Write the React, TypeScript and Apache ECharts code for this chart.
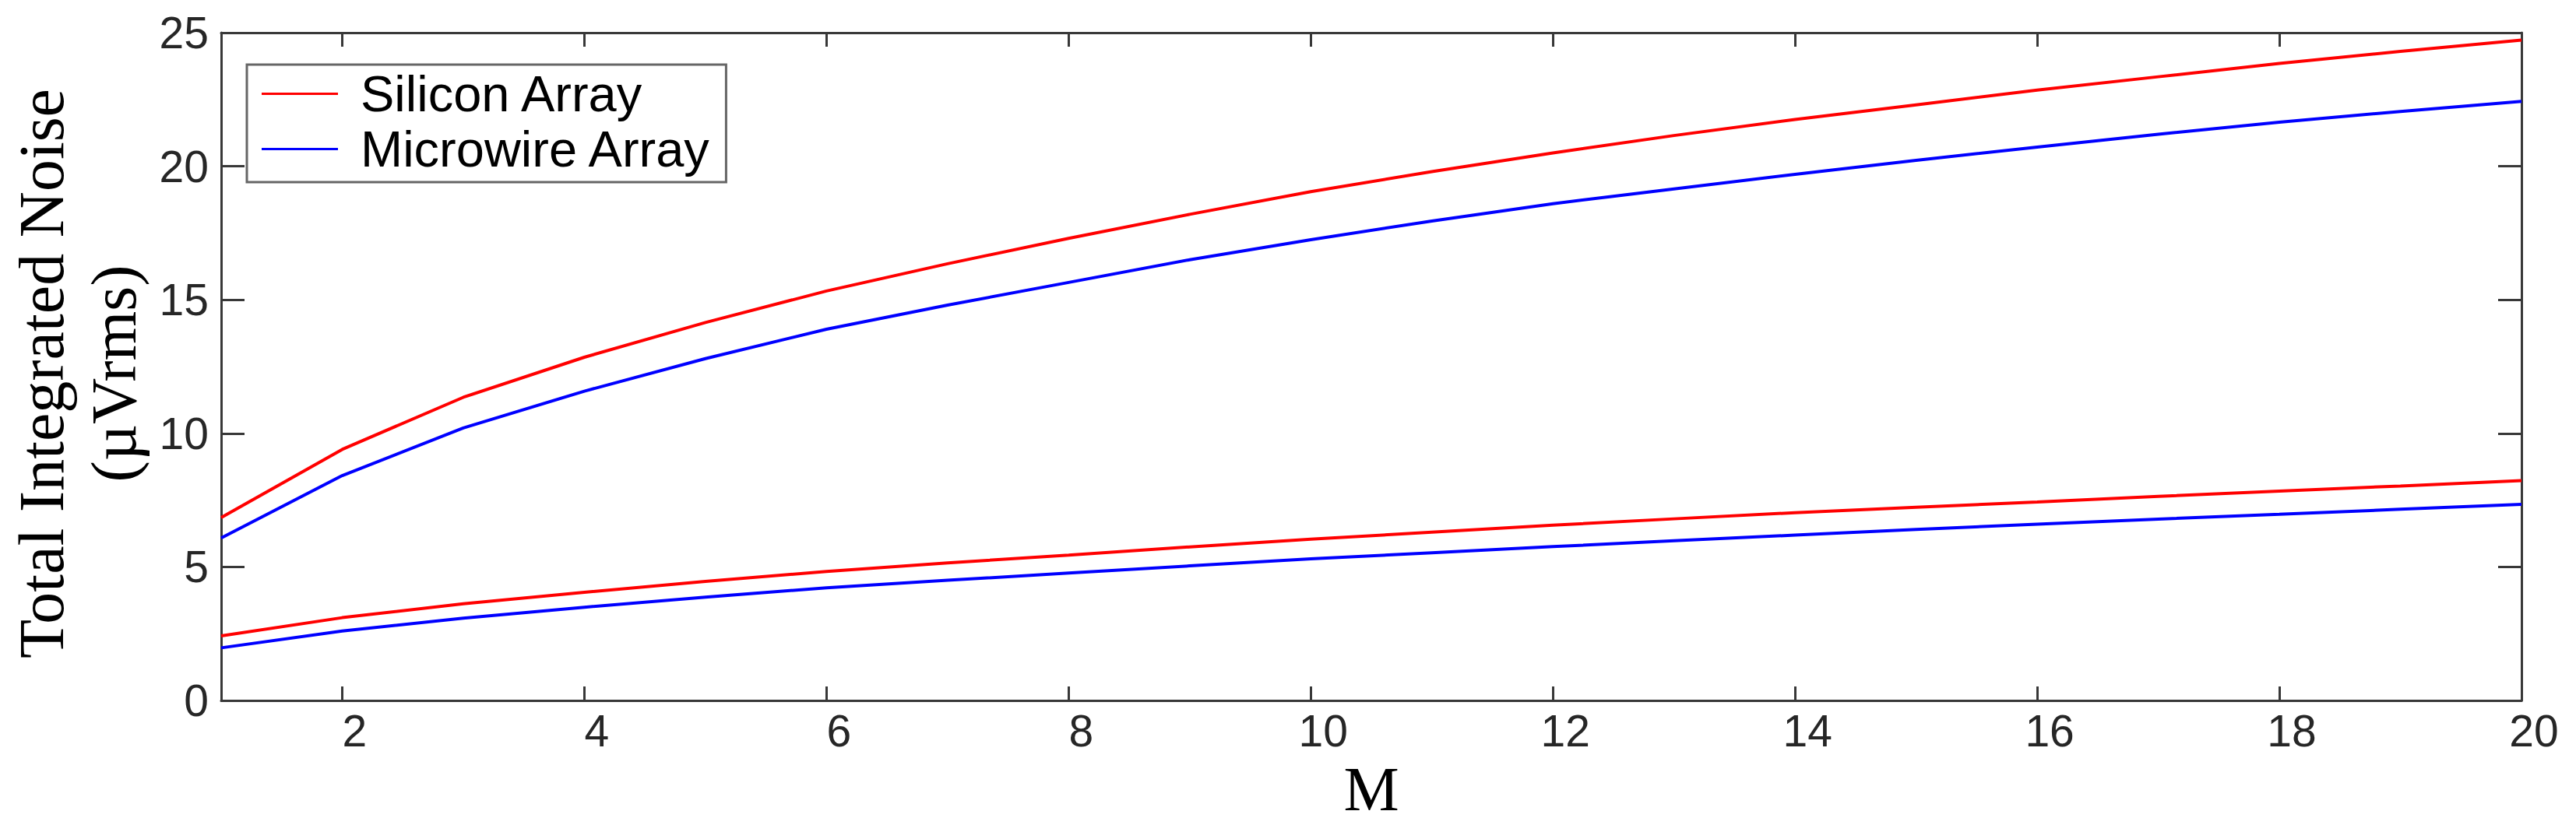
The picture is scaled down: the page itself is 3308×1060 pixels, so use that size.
import React, { useEffect, useRef } from "react";
import * as echarts from "echarts";

const mValues = [1, 2, 3, 4, 5, 6, 7, 8, 9, 10, 11, 12, 13, 14, 15, 16, 17, 18, 19, 20];
const siliconUpper = [6.85, 9.4, 11.35, 12.85, 14.15, 15.33, 16.35, 17.3, 18.2, 19.05, 19.8, 20.5, 21.15, 21.75, 22.3, 22.85, 23.35, 23.85, 24.3, 24.72];
const microwireUpper = [6.08, 8.42, 10.2, 11.58, 12.8, 13.9, 14.8, 15.65, 16.5, 17.25, 17.95, 18.6, 19.15, 19.7, 20.22, 20.72, 21.2, 21.65, 22.05, 22.43];
const siliconLower = [2.42, 3.1, 3.62, 4.05, 4.46, 4.83, 5.15, 5.44, 5.75, 6.04, 6.3, 6.56, 6.8, 7.03, 7.23, 7.43, 7.64, 7.84, 8.03, 8.23];
const microwireLower = [1.97, 2.6, 3.08, 3.49, 3.87, 4.22, 4.5, 4.77, 5.04, 5.3, 5.53, 5.76, 5.98, 6.19, 6.4, 6.6, 6.79, 6.97, 7.16, 7.34];
const xTickValues = [2, 4, 6, 8, 10, 12, 14, 16, 18, 20];
const legendNames = ["Silicon Array", "Microwire Array"];
const xAxisTitle = "M";
const yAxisTitle = "Total Integrated Noise\n(µVrms)";

const W = 3308;
const H = 1060;
const GRID = { left: 284, right: 70, top: 42, bottom: 160 };

const pairs = (ys: number[]) => mValues.map((m, i) => [m, ys[i]]);

export default function App() {
  const ref = useRef<HTMLDivElement>(null);
  useEffect(() => {
    document.body.style.margin = "0";
    const chart = echarts.init(ref.current as HTMLDivElement, null, { renderer: "svg", width: W, height: H });
    const axisLineStyle = { color: "#383838", width: 3 };
    const tickStyle = { color: "#383838", width: 3 };
    const labelFont = { fontFamily: "Liberation Sans, Arial, sans-serif", fontSize: 57, color: "#262626" };
    const lineSeries = (name: string, ys: number[], color: string) => ({
      type: "line",
      name,
      data: pairs(ys),
      symbol: "none",
      showSymbol: false,
      lineStyle: { color, width: 4 },
      itemStyle: { color },
      xAxisIndex: 0,
      yAxisIndex: 0,
      z: 3,
    });
    chart.setOption({
      animation: false,
      backgroundColor: "#ffffff",
      grid: { ...GRID, containLabel: false, outerBoundsMode: "none" },
      legend: {
        data: legendNames.map((name) => ({ name, icon: "rect" })),
        orient: "vertical",
        left: 317,
        top: 83,
        padding: [5, 18, 10, 19],
        backgroundColor: "#ffffff",
        borderColor: "#666666",
        borderWidth: 3,
        itemWidth: 98,
        itemHeight: 3,
        itemGap: 6,
        selectedMode: false,
        textStyle: {
          fontFamily: "Liberation Sans, Arial, sans-serif",
          fontSize: 65,
          lineHeight: 65,
          color: "#000000",
          padding: [0, 0, 0, 24],
        },
      },
      xAxis: [
        {
          type: "value",
          position: "bottom",
          min: 1,
          max: 20,
          axisLine: { show: true, onZero: false, lineStyle: axisLineStyle },
          axisTick: { show: true, inside: true, length: 18, customValues: xTickValues, lineStyle: tickStyle },
          axisLabel: { ...labelFont, margin: 10, customValues: xTickValues, padding: [0, 0, 0, 32] },
          splitLine: { show: false },
        },
        {
          type: "value",
          position: "top",
          min: 1,
          max: 20,
          axisLine: { show: true, onZero: false, lineStyle: axisLineStyle },
          axisTick: { show: true, inside: true, length: 18, customValues: xTickValues, lineStyle: tickStyle },
          axisLabel: { show: false },
          splitLine: { show: false },
        },
      ],
      yAxis: [
        {
          type: "value",
          position: "left",
          min: 0,
          max: 25,
          interval: 5,
          axisLine: { show: true, onZero: false, lineStyle: axisLineStyle },
          axisTick: { show: true, inside: true, length: 30, lineStyle: tickStyle },
          axisLabel: { ...labelFont, margin: 16 },
          splitLine: { show: false },
        },
        {
          type: "value",
          position: "right",
          min: 0,
          max: 25,
          interval: 5,
          axisLine: { show: true, onZero: false, lineStyle: axisLineStyle },
          axisTick: { show: true, inside: true, length: 30, lineStyle: tickStyle },
          axisLabel: { show: false },
          splitLine: { show: false },
        },
      ],
      graphic: [
        {
          type: "text",
          x: GRID.left + (W - GRID.left - GRID.right) / 2,
          y: 1014,
          style: {
            text: xAxisTitle,
            fontFamily: "Liberation Serif, Times New Roman, serif",
            fontSize: 80,
            fill: "#000000",
            textAlign: "center",
            textVerticalAlign: "middle",
          },
        },
        {
          type: "text",
          x: 100,
          y: 480,
          rotation: Math.PI / 2,
          style: {
            text: yAxisTitle,
            fontFamily: "Liberation Serif, Times New Roman, serif",
            fontSize: 82,
            lineHeight: 93,
            fill: "#000000",
            textAlign: "center",
            textVerticalAlign: "middle",
          },
        },
      ],
      series: [
        lineSeries(legendNames[0], siliconUpper, "#ff0000"),
        lineSeries(legendNames[1], microwireUpper, "#0000ff"),
        lineSeries(legendNames[0], siliconLower, "#ff0000"),
        lineSeries(legendNames[1], microwireLower, "#0000ff"),
      ],
    });
    return () => chart.dispose();
  }, []);
  return <div ref={ref} style={{ position: "absolute", left: 0, top: 0, width: W, height: H, background: "#fff" }} />;
}
